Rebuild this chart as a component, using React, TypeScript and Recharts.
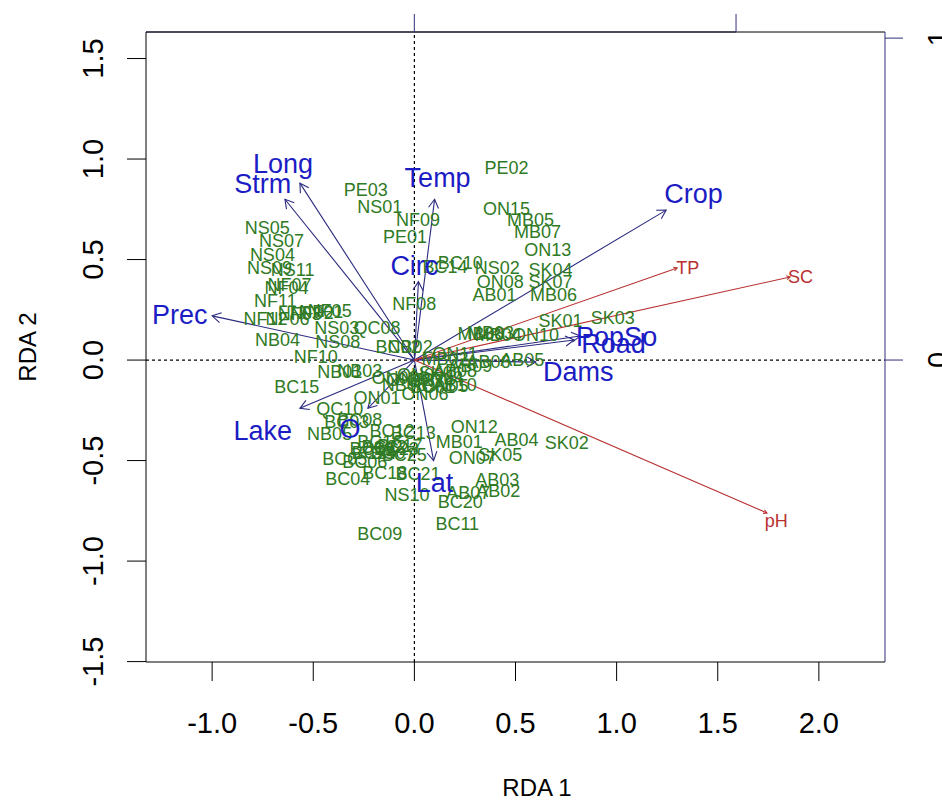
import { ScatterChart, Scatter, XAxis, YAxis, ReferenceLine } from 'recharts';

const FONT = '"Liberation Sans", Arial, sans-serif';
const SITE_GREEN = '#2f7a24';
const ARROW_NAVY = '#2a2a7e';
const LABEL_BLUE = '#1c1cc4';
const SPECIES_RED = '#b83030';
const AXIS_NAVY = '#30307a';

// RDA 1 / RDA 2 ranges (sites + constraints)
const X_RANGE: [number, number] = [-1.327, 2.327];
const Y_RANGE: [number, number] = [-1.502, 1.632];
// species scale shown on the top and right axes
const SX_RANGE: [number, number] = [-0.834, 1.463];
const SY_RANGE: [number, number] = [-0.938, 1.019];

const xTicks = [-1, -0.5, 0, 0.5, 1, 1.5, 2];
const yTicks = [-1.5, -1, -0.5, 0, 0.5, 1, 1.5];
const speciesTicks = [0, 1];

// site scores
const siteNames = [
  'PE02', 'PE03', 'NS01', 'NF09', 'PE01', 'ON15', 'MB05', 'MB07', 'ON13', 'BC10',
  'BC14', 'NS02', 'SK04', 'ON08', 'SK07', 'AB01', 'MB06', 'NF08', 'SK01', 'SK03',
  'MB03', 'MB04', 'ON10', 'AB05', 'AB06', 'NS05', 'NS07', 'NS04', 'NS09', 'NS11',
  'NF07', 'NF04', 'NF11', 'NF05', 'NF02', 'NF03', 'NF06', 'NF12', 'NS03', 'QC08',
  'NB04', 'NS08', 'NF10', 'BC02', 'NB02', 'NB01', 'NB03', 'ON03', 'ON02', 'BC15',
  'ON01', 'ON06', 'QC10', 'BC08', 'BC03', 'NB05', 'BC12', 'BC13', 'BC16', 'BC17',
  'BC19', 'BC07', 'BC05', 'BC06', 'BC04', 'BC18', 'BC21', 'NS10', 'BC09', 'BC11',
  'BC20', 'AB03', 'AB02', 'AB07', 'ON12', 'MB01', 'AB04', 'SK02', 'ON07', 'SK05',
  'AB08', 'MB02', 'AB09', 'ON04', 'ON05', 'ON11', 'NB06', 'BC01', 'ON09', 'ON14',
  'AB10', 'MB08', 'SK06', 'BC22', 'BC23', 'BC24', 'BC25', 'NF01',
];
const siteX = [
  0.455, -0.24, -0.171, 0.018, -0.046, 0.455, 0.574, 0.609, 0.659, 0.227,
  0.152, 0.41, 0.673, 0.425, 0.673, 0.396, 0.688, 0.0, 0.723, 0.981,
  0.376, 0.415, 0.599, 0.534, 0.366, -0.727, -0.657, -0.702, -0.716, -0.602,
  -0.617, -0.632, -0.687, -0.419, -0.508, -0.567, -0.627, -0.736, -0.384, -0.185,
  -0.677, -0.379, -0.488, -0.081, -0.021, -0.369, -0.27, -0.096, -0.021, -0.582,
  -0.185, 0.053, -0.369, -0.27, -0.334, -0.419, -0.111, -0.006, -0.171, -0.071,
  -0.21, -0.106, -0.344, -0.245, -0.329, -0.146, 0.018, -0.036, -0.171, 0.212,
  0.227, 0.41, 0.415, 0.266, 0.296, 0.222, 0.505, 0.753, 0.286, 0.425,
  0.201, 0.152, 0.276, 0.127, 0.152, 0.201, -0.05, 0.09, 0.03, 0.08,
  0.2, 0.33, 0.13, -0.15, -0.09, -0.2, -0.05, -0.46,
];
const siteY = [
  0.96, 0.846, 0.766, 0.701, 0.617, 0.756, 0.701, 0.637, 0.552, 0.483,
  0.463, 0.458, 0.448, 0.393, 0.393, 0.328, 0.328, 0.279, 0.199, 0.214,
  0.139, 0.129, 0.129, 0.005, -0.005, 0.657, 0.597, 0.527, 0.458, 0.448,
  0.378, 0.363, 0.294, 0.244, 0.239, 0.234, 0.209, 0.209, 0.164, 0.164,
  0.1, 0.09, 0.02, 0.065, 0.065, -0.055, -0.05, -0.085, -0.095, -0.134,
  -0.184, -0.164, -0.239, -0.294, -0.308, -0.363, -0.348, -0.358, -0.403, -0.423,
  -0.438, -0.458, -0.488, -0.507, -0.587, -0.557, -0.562, -0.667, -0.861, -0.811,
  -0.706, -0.592, -0.647, -0.657, -0.333, -0.403, -0.393, -0.408, -0.483, -0.468,
  -0.05, 0.01, -0.025, -0.09, -0.129, 0.035, -0.12, -0.13, -0.07, -0.1,
  -0.12, 0.13, -0.06, -0.43, -0.44, -0.46, -0.47, 0.24,
];

// constraining variables (biplot arrows)
const envNames = ['Long', 'Strm', 'Temp', 'Crop', 'Prec', 'Circ', 'Lake', 'O', 'Lat', 'Dams', 'Road', 'PopSo'];
const envX = [-0.566, -0.64, 0.1, 1.245, -1.0, 0.02, -0.566, -0.23, 0.095, 0.6, 0.79, 0.82];
const envY = [0.88, 0.8, 0.8, 0.746, 0.22, 0.39, -0.24, -0.24, -0.5, -0.01, 0.1, 0.12];
const envLabelX = [-0.65, -0.75, 0.115, 1.38, -1.16, 0.0, -0.75, -0.318, 0.1, 0.81, 0.985, 1.0];
const envLabelY = [0.98, 0.88, 0.91, 0.83, 0.23, 0.47, -0.35, -0.338, -0.61, -0.055, 0.085, 0.12];

// species arrows, in species units
const spNames = ['TP', 'SC', 'pH'];
const spX = [0.817, 1.168, 1.096];
const spY = [0.286, 0.258, -0.475];
const spLabelX = [0.85, 1.2, 1.125];
const spLabelY = [0.286, 0.258, -0.5];

const sites = siteNames.map((name, i) => ({ name, x: siteX[i], y: siteY[i] }));
const envLabels = envNames.map((name, i) => ({ name, x: envLabelX[i], y: envLabelY[i] }));
const spLabels = spNames.map((name, i) => ({ name, x: spLabelX[i], y: spLabelY[i] }));

const fmt = (v: number) => v.toFixed(1);

function arrowShape(color: string, head: number) {
  return (p: any) => {
    const { x1, y1, x2, y2 } = p;
    const a = Math.atan2(y2 - y1, x2 - x1);
    const s = Math.PI / 6;
    const hx1 = x2 - head * Math.cos(a - s);
    const hy1 = y2 - head * Math.sin(a - s);
    const hx2 = x2 - head * Math.cos(a + s);
    const hy2 = y2 - head * Math.sin(a + s);
    return (
      <g>
        <line x1={x1} y1={y1} x2={x2} y2={y2} stroke={color} strokeWidth={1.1} />
        {head > 0 && (
          <polyline points={`${hx1},${hy1} ${x2},${y2} ${hx2},${hy2}`} fill="none" stroke={color} strokeWidth={1.1} />
        )}
      </g>
    );
  };
}

function textShape(color: string, size: number) {
  return (p: any) => (
    <text
      x={p.cx}
      y={p.cy + size * 0.36}
      textAnchor="middle"
      fontSize={size}
      fontFamily={FONT}
      fill={color}
    >
      {p.payload.name}
    </text>
  );
}

function BottomTick({ x, y, payload }: any) {
  return (
    <text x={x} y={y + 52} textAnchor="middle" fontSize={29} fontFamily={FONT} fill="#000">
      {fmt(payload.value)}
    </text>
  );
}

function LeftTick({ x, y, payload }: any) {
  const bx = x - 24;
  return (
    <text x={bx} y={y} transform={`rotate(-90 ${bx} ${y})`} textAnchor="middle" fontSize={29} fontFamily={FONT} fill="#000">
      {fmt(payload.value)}
    </text>
  );
}

function RightTick({ x, y, payload }: any) {
  const bx = x + 45;
  return (
    <text x={bx} y={y} transform={`rotate(-90 ${bx} ${y})`} textAnchor="middle" fontSize={29} fontFamily={FONT} fill="#000">
      {String(payload.value)}
    </text>
  );
}

const NoLabel = () => <g />;

export default function App() {
  return (
    <div style={{ position: 'absolute', left: 0, top: 0, width: 942, height: 802, background: '#fff' }}>
      <ScatterChart width={942} height={802} margin={{ top: 0, right: 0, bottom: 0, left: 0 }}>
        <XAxis
          xAxisId="main"
          dataKey="x"
          type="number"
          domain={X_RANGE}
          allowDataOverflow
          ticks={xTicks}
          interval={0}
          height={140}
          tickSize={19}
          tickMargin={0}
          tick={<BottomTick />}
          axisLine={{ stroke: '#000' }}
          tickLine={{ stroke: '#000' }}
          label={() => (
            <text x={537} y={796} textAnchor="middle" fontSize={24} fontFamily={FONT} fill="#000">
              RDA 1
            </text>
          )}
        />
        <XAxis
          xAxisId="top"
          orientation="top"
          dataKey="x"
          type="number"
          domain={SX_RANGE}
          allowDataOverflow
          ticks={speciesTicks}
          interval={0}
          height={32}
          tickSize={18}
          tick={<NoLabel />}
          axisLine={{ stroke: '#000' }}
          tickLine={{ stroke: AXIS_NAVY }}
        />
        <YAxis
          yAxisId="main"
          dataKey="y"
          type="number"
          domain={Y_RANGE}
          allowDataOverflow
          ticks={yTicks}
          interval={0}
          width={146}
          tickSize={19}
          tickMargin={0}
          tick={<LeftTick />}
          axisLine={{ stroke: '#000' }}
          tickLine={{ stroke: '#000' }}
          label={(props: any) => {
            const vb = props.viewBox;
            const cy = vb.y + vb.height / 2;
            return (
              <text x={36} y={cy} transform={`rotate(-90 36 ${cy})`} textAnchor="middle" fontSize={24} fontFamily={FONT} fill="#000">
                RDA 2
              </text>
            );
          }}
        />
        <YAxis
          yAxisId="right"
          orientation="right"
          dataKey="y"
          type="number"
          domain={SY_RANGE}
          allowDataOverflow
          ticks={speciesTicks}
          interval={0}
          width={57}
          tickSize={18}
          tickMargin={0}
          tick={<RightTick />}
          axisLine={{ stroke: AXIS_NAVY }}
          tickLine={{ stroke: AXIS_NAVY }}
        />

        {/* navy part of the species axis along the top */}
        <ReferenceLine
          xAxisId="top"
          yAxisId="right"
          ifOverflow="visible"
          segment={[{ x: SX_RANGE[0], y: SY_RANGE[1] }, { x: 1, y: SY_RANGE[1] }]}
          stroke={AXIS_NAVY}
          strokeWidth={1.2}
        />

        <ReferenceLine xAxisId="main" yAxisId="main" x={0} stroke="#000" strokeDasharray="3 3" strokeWidth={1.2} />
        <ReferenceLine xAxisId="main" yAxisId="main" y={0} stroke="#000" strokeDasharray="3 3" strokeWidth={1.2} />

        <Scatter
          xAxisId="main"
          yAxisId="main"
          data={sites}
          shape={textShape(SITE_GREEN, 18)}
          isAnimationActive={false}
        />

        {envNames.map((n, i) => (
          <ReferenceLine
            key={n}
            xAxisId="main"
            yAxisId="main"
            segment={[{ x: 0, y: 0 }, { x: envX[i], y: envY[i] }]}
            shape={arrowShape(ARROW_NAVY, 10)}
          />
        ))}
        {spNames.map((n, i) => (
          <ReferenceLine
            key={n}
            xAxisId="top"
            yAxisId="right"
            segment={[{ x: 0, y: 0 }, { x: spX[i], y: spY[i] }]}
            shape={arrowShape(SPECIES_RED, 4)}
          />
        ))}

        <Scatter
          xAxisId="main"
          yAxisId="main"
          data={envLabels}
          shape={textShape(LABEL_BLUE, 27)}
          isAnimationActive={false}
        />
        <Scatter
          xAxisId="top"
          yAxisId="right"
          data={spLabels}
          shape={textShape(SPECIES_RED, 18)}
          isAnimationActive={false}
        />
      </ScatterChart>
    </div>
  );
}
